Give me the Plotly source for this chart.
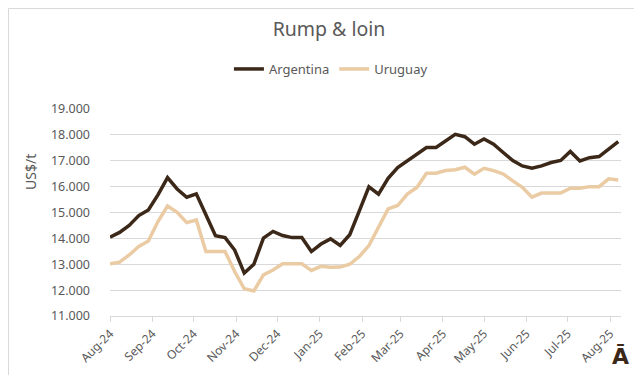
import pandas as pd
import plotly.graph_objects as go

# Weekly observation dates (Aug-24 .. Aug-25)
dates = pd.date_range("2024-08-01", periods=54, freq="7D")

argentina = [
    14050, 14230, 14500, 14880, 15100, 15680, 16350, 15910, 15590, 15720,
    14910, 14100, 14030, 13550, 12660, 13000, 14010, 14270, 14110, 14030,
    14030, 13490, 13780, 13980, 13730, 14140, 15060, 15990, 15710, 16320,
    16740, 16990, 17220, 17510, 17510, 17760, 18020, 17930, 17640, 17840,
    17640, 17320, 17010, 16800, 16710, 16800, 16930, 17010, 17360, 16990,
    17120, 17160, 17440, 17740,
]
uruguay = [
    13020, 13080, 13360, 13690, 13900, 14650, 15250, 15010, 14610, 14710,
    13490, 13490, 13490, 12720, 12050, 11970, 12590, 12780, 13020, 13020,
    13020, 12760, 12920, 12880, 12890, 13000, 13300, 13720, 14460, 15140,
    15270, 15710, 15970, 16520, 16520, 16620, 16650, 16750, 16480, 16710,
    16620, 16490, 16220, 15970, 15590, 15750, 15750, 15750, 15940, 15940,
    16000, 16000, 16300, 16260,
]
series_names = ["Argentina", "Uruguay"]
y_ticks = [11000, 12000, 13000, 14000, 15000, 16000, 17000, 18000, 19000]
y_tick_labels = ["11.000", "12.000", "13.000", "14.000", "15.000",
                 "16.000", "17.000", "18.000", "19.000"]

colors = ["#3B2819", "#EACBA3"]
grey = "#595959"
font_family = "Noto Sans, Open Sans, DejaVu Sans, sans-serif"

fig = go.Figure()
for name, vals, col in zip(series_names, [argentina, uruguay], colors):
    fig.add_trace(go.Scatter(x=dates, y=vals, mode="lines", name=name,
                             line=dict(color=col, width=3.5)))

L, R, T, B = 102, 29, 101, 67
W, H = 642, 375
pw, ph = W - L - R, H - T - B

fig.update_layout(
    width=W, height=H,
    margin=dict(l=L, r=R, t=T, b=B),
    paper_bgcolor="white", plot_bgcolor="white",
    font=dict(family=font_family, color=grey, size=12),
    title=dict(text="Rump & loin", x=0.5, xref="container", xanchor="center",
               y=1 - 21 / H, yref="container", yanchor="middle",
               font=dict(size=19.5, color=grey, family=font_family)),
    legend=dict(orientation="h", x=0.503, xref="container", xanchor="center",
                y=1 - 61 / H, yref="container", yanchor="middle",
                font=dict(size=13, color=grey), itemwidth=30,
                tracegroupgap=0),
    showlegend=True,
)
fig.update_xaxes(
    range=[dates[0], dates[-1] + pd.Timedelta(days=2)],
    tick0="2024-08-01", dtick="M1", tickformat="%b-%y", tickangle=-45,
    showgrid=False, showline=True, linecolor="#D9D9D9", linewidth=1,
    ticks="outside", ticklen=5, tickcolor="#D9D9D9",
    tickfont=dict(size=12, color=grey), zeroline=False,
)
fig.update_yaxes(
    range=[11000, 19000], tickvals=y_ticks, ticktext=y_tick_labels,
    showgrid=True, gridcolor="#D9D9D9", gridwidth=1, zeroline=False,
    tickfont=dict(size=12.5, color=grey), ticks="", ticklabelstandoff=19,
)
# y-axis title
fig.add_annotation(text="US$/t", xref="paper", yref="paper",
                   x=(22 - L) / pw, y=(H - B - 164) / ph, textangle=-90,
                   showarrow=False, xanchor="center", yanchor="middle",
                   font=dict(size=14, color=grey))
# logo mark
fig.add_annotation(text="<b>Ā</b>", xref="paper", yref="paper",
                   x=(612 - L) / pw, y=(H - B - 348) / ph, showarrow=False,
                   xanchor="center", yanchor="middle",
                   font=dict(size=22, color="#3B2819", family="DejaVu Sans"))
# outer border
fig.add_shape(type="rect", xref="paper", yref="paper",
              x0=(0.5 - L) / pw, x1=(W - 0.5 - L) / pw,
              y0=(H - B - (H - 0.5)) / ph, y1=(H - B - 0.5) / ph,
              line=dict(color="#D9D9D9", width=1), layer="below")

fig.write_html("out.html")
